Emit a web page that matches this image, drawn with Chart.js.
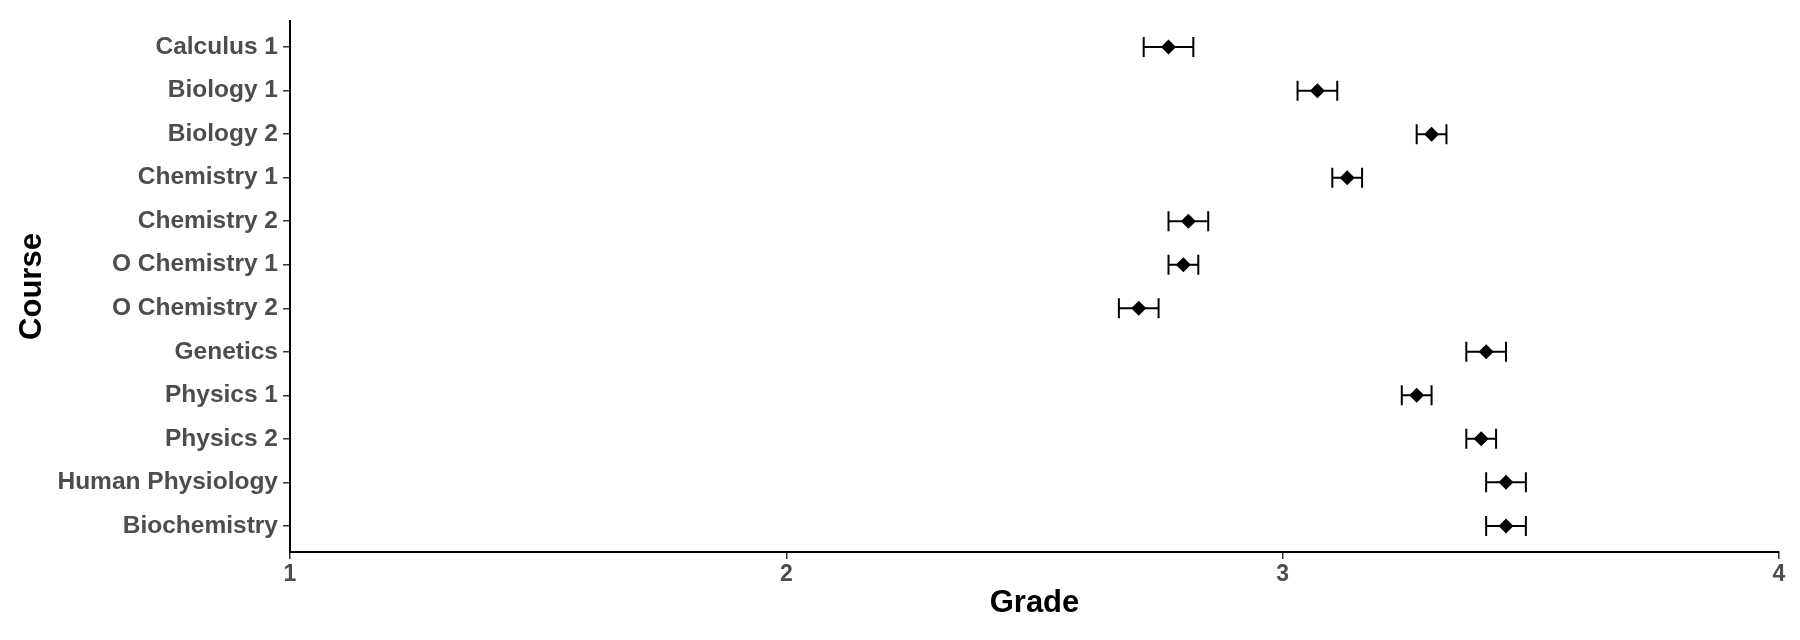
<!DOCTYPE html>
<html>
<head>
<meta charset="utf-8">
<script src="https://cdn.jsdelivr.net/npm/chart.js@4.4.0/dist/chart.umd.min.js"></script>
<style>
  html, body { margin: 0; padding: 0; background: #fff; }
  #wrap { width: 1800px; height: 640px; position: relative; }
</style>
</head>
<body>
<div id="wrap"><canvas id="gradeChart"></canvas></div>
<script>
// course list, top to bottom
const courses = ['Calculus 1', 'Biology 1', 'Biology 2', 'Chemistry 1', 'Chemistry 2', 'O Chemistry 1',
    'O Chemistry 2', 'Genetics', 'Physics 1', 'Physics 2', 'Human Physiology', 'Biochemistry'];
// mean grade and error bar ends
const gradeMean = [2.77, 3.07, 3.30, 3.13, 2.81, 2.80, 2.71, 3.41, 3.27, 3.40, 3.45, 3.45];
const gradeLow  = [2.72, 3.03, 3.27, 3.10, 2.77, 2.77, 2.67, 3.37, 3.24, 3.37, 3.41, 3.41];
const gradeHigh = [2.82, 3.11, 3.33, 3.16, 2.85, 2.83, 2.75, 3.45, 3.30, 3.43, 3.49, 3.49];
const gradeTicks = [1, 2, 3, 4];

const fontFamily = '"Liberation Sans", Arial, Helvetica, sans-serif';

// draws the horizontal error bars with caps
const errorBars = {
    id: 'errorBars',
    beforeDatasetsDraw(chart) {
        const ctx = chart.ctx;
        const xs = chart.scales.x;
        const ys = chart.scales.y;
        ctx.save();
        ctx.strokeStyle = '#000';
        ctx.lineWidth = 2;
        courses.forEach((c, i) => {
            const y = ys.getPixelForValue(i);
            const x1 = xs.getPixelForValue(gradeLow[i]);
            const x2 = xs.getPixelForValue(gradeHigh[i]);
            ctx.beginPath();
            ctx.moveTo(x1, y);
            ctx.lineTo(x2, y);
            ctx.moveTo(x1, y - 10);
            ctx.lineTo(x1, y + 10);
            ctx.moveTo(x2, y - 10);
            ctx.lineTo(x2, y + 10);
            ctx.stroke();
        });
        ctx.restore();
    }
};

new Chart(document.getElementById('gradeChart'), {
    type: 'scatter',
    data: {
        datasets: [{
            label: 'Grade',
            data: gradeMean.map((g, i) => ({ x: g, y: i })),
            pointStyle: 'rectRot',
            pointRadius: 7.5,
            pointHoverRadius: 7.5,
            backgroundColor: '#000',
            borderColor: '#000',
            borderWidth: 0
        }]
    },
    options: {
        responsive: true,
        maintainAspectRatio: false,
        animation: false,
        layout: {
            padding: { top: 21, right: 21, left: 0, bottom: 0 }
        },
        plugins: {
            legend: { display: false },
            tooltip: { enabled: false }
        },
        scales: {
            x: {
                type: 'linear',
                min: 1,
                max: 4,
                afterBuildTicks: scale => { scale.ticks = gradeTicks.map(v => ({ value: v })); },
                afterFit: scale => { scale.height = 88; },
                border: { display: true, color: '#000', width: 2 },
                grid: {
                    drawOnChartArea: false,
                    drawTicks: true,
                    tickLength: 7,
                    tickColor: '#333',
                    lineWidth: 1.5
                },
                ticks: {
                    color: '#4d4d4d',
                    padding: 2,
                    maxRotation: 0,
                    font: { family: fontFamily, size: 23, weight: 'bold' }
                },
                title: {
                    display: true,
                    text: 'Grade',
                    color: '#000',
                    padding: { top: 0, bottom: 18 },
                    font: { family: fontFamily, size: 31, weight: 'bold' }
                }
            },
            y: {
                type: 'linear',
                min: -0.6,
                max: 11.6,
                reverse: true,
                afterBuildTicks: scale => { scale.ticks = courses.map((c, i) => ({ value: i })); },
                afterFit: scale => { scale.width = 290; },
                border: { display: true, color: '#000', width: 2 },
                grid: {
                    drawOnChartArea: false,
                    drawTicks: true,
                    tickLength: 7,
                    tickColor: '#333',
                    lineWidth: 1.5
                },
                ticks: {
                    color: '#4d4d4d',
                    padding: 5,
                    autoSkip: false,
                    callback: v => courses[v],
                    font: { family: fontFamily, size: 24.5, weight: 'bold' }
                },
                title: {
                    display: true,
                    text: 'Course',
                    color: '#000',
                    padding: { top: 14, bottom: 0 },
                    font: { family: fontFamily, size: 31, weight: 'bold' }
                }
            }
        }
    },
    plugins: [errorBars]
});
</script>
</body>
</html>
